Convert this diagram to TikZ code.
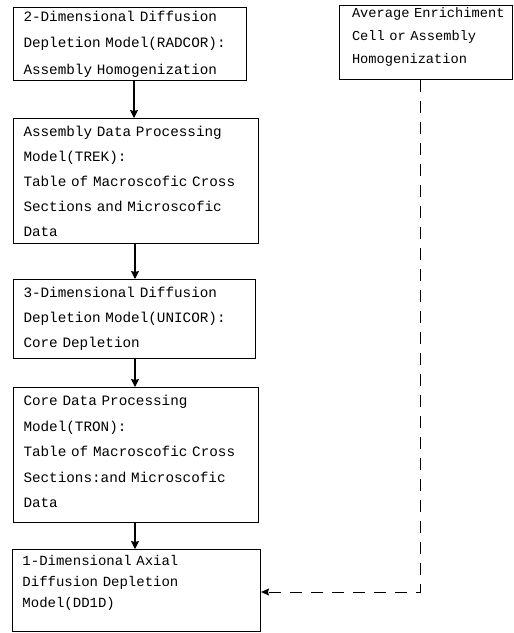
\documentclass[tikz,border=0pt]{standalone}
\usepackage{fontspec}
\newfontfamily\boxfont{Liberation Mono}
\usetikzlibrary{arrows.meta}
\begin{document}
\begin{tikzpicture}[x=1pt,y=-1pt,
  flowbox/.style={draw, line width=1pt, anchor=north west, inner ysep=0pt, inner xsep=10pt, align=left},
  flow/.style={-{Stealth[length=8pt,width=8pt,inset=1pt]}, line width=1.1pt},
  dashflow/.style={-{Stealth[length=8pt,width=7pt,inset=1pt]}, line width=1pt, dash pattern=on 12pt off 9pt}]
\useasboundingbox (0,0) rectangle (514,633);
\node[flowbox, minimum width=233pt, minimum height=73pt, text width=213pt,
  font=\boxfont\fontsize{14.3pt}{26.5pt}\selectfont] (b1) at (13,7)
  {2-Dimensional Diffusion\\Depletion Model(RADCOR):\\Assembly Homogenization};
\node[flowbox, minimum width=245pt, minimum height=125pt, text width=225pt,
  font=\boxfont\fontsize{14.3pt}{25pt}\selectfont] (b2) at (13,118)
  {Assembly Data Processing\\Model(TREK):\\Table of Macroscofic Cross\\Sections and Microscofic\\Data};
\node[flowbox, minimum width=242pt, minimum height=79pt, text width=222pt,
  font=\boxfont\fontsize{14.3pt}{25pt}\selectfont] (b3) at (13,279)
  {3-Dimensional Diffusion\\Depletion Model(UNICOR):\\Core Depletion};
\node[flowbox, minimum width=245pt, minimum height=135pt, text width=225pt,
  font=\boxfont\fontsize{14.3pt}{25.5pt}\selectfont] (b4) at (13,387)
  {Core Data Processing\\Model(TRON):\\Table of Macroscofic Cross\\Sections:and Microscofic\\Data\rule[-7pt]{0pt}{7pt}};
\node[flowbox, minimum width=248pt, minimum height=82pt, text width=228pt,
  font=\boxfont\fontsize{14pt}{21pt}\selectfont] (b5) at (12,549)
  {1-Dimensional Axial\\Diffusion Depletion\\Model(DD1D)\rule[-18pt]{0pt}{18pt}};
\node[flowbox, minimum width=173pt, minimum height=74pt, text width=160pt, inner xsep=6.5pt,
  font=\boxfont\fontsize{13.7pt}{23pt}\selectfont] (b6) at (339,5)
  {\hspace*{6pt}Average Enrichiment\\\hspace*{6pt}Cell or Assembly\\\hspace*{6pt}Homogenization\rule[-14pt]{0pt}{14pt}};
\coordinate (corner) at (420,592);
\draw[flow] (b1.south -| 134,0) -- (b2.north -| 134,0);
\draw[flow] (b2.south -| 135,0) -- (b3.north -| 135,0);
\draw[flow] (b3.south -| 135,0) -- (b4.north -| 135,0);
\draw[flow] (b4.south -| 135,0) -- (b5.north -| 135,0);
\draw[dashflow] (b6.south -| corner) -- (corner) -- (corner -| b5.east);
\end{tikzpicture}
\end{document}
